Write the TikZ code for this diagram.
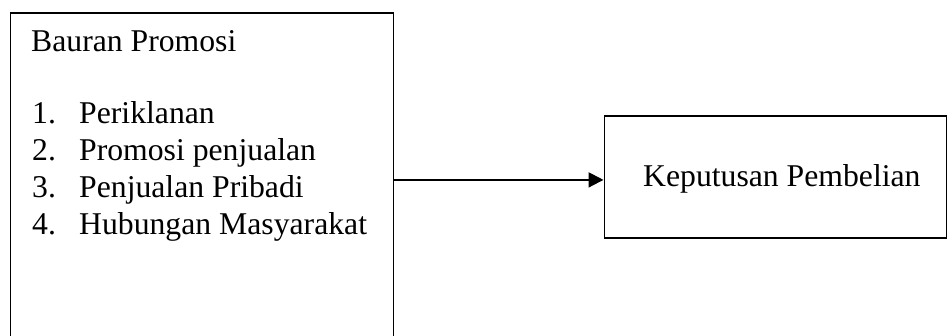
\documentclass[tikz,border=0pt]{standalone}
\usepackage{fontspec}
\setmainfont{Liberation Serif}
\usetikzlibrary{arrows.meta}

\tikzset{
  frame/.style={draw=black, line width=1.8pt, inner sep=0pt, anchor=north west},
  label/.style={inner sep=0pt, anchor=base west, font=\fontsize{31.7}{37}\selectfont},
  link/.style={line width=2pt, -{Triangle[length=15pt,width=15pt]}}
}

\begin{document}
\begin{tikzpicture}[x=1pt, y=-1pt]
  \useasboundingbox (0,0) rectangle (947,336);
  \clip (0,0) rectangle (947,336);

  % left box: promotion mix (runs past the lower edge)
  \node[frame, minimum width=383pt, minimum height=334pt] (lbox) at (9.5,12) {};
  \node[label] (title) at (31,52) {Bauran Promosi};
  \node[label] (n1) at (32,124) {1.};
  \node[label] (i1) at (79,124) {Periklanan};
  \node[label] (n2) at (32,161) {2.};
  \node[label] (i2) at (79,161) {Promosi penjualan};
  \node[label] (n3) at (32,198) {3.};
  \node[label] (i3) at (79,198) {Penjualan Pribadi};
  \node[label] (n4) at (32,235) {4.};
  \node[label] (i4) at (79,235) {Hubungan Masyarakat};

  % right box: purchase decision
  \node[frame, minimum width=342pt, minimum height=122pt] (rbox) at (603.5,115) {};
  \node[label] (kp) at (643,187) {Keputusan Pembelian};

  % influence arrow
  \draw[link] (lbox.east) -- (lbox.east -| rbox.west);
\end{tikzpicture}
\end{document}
